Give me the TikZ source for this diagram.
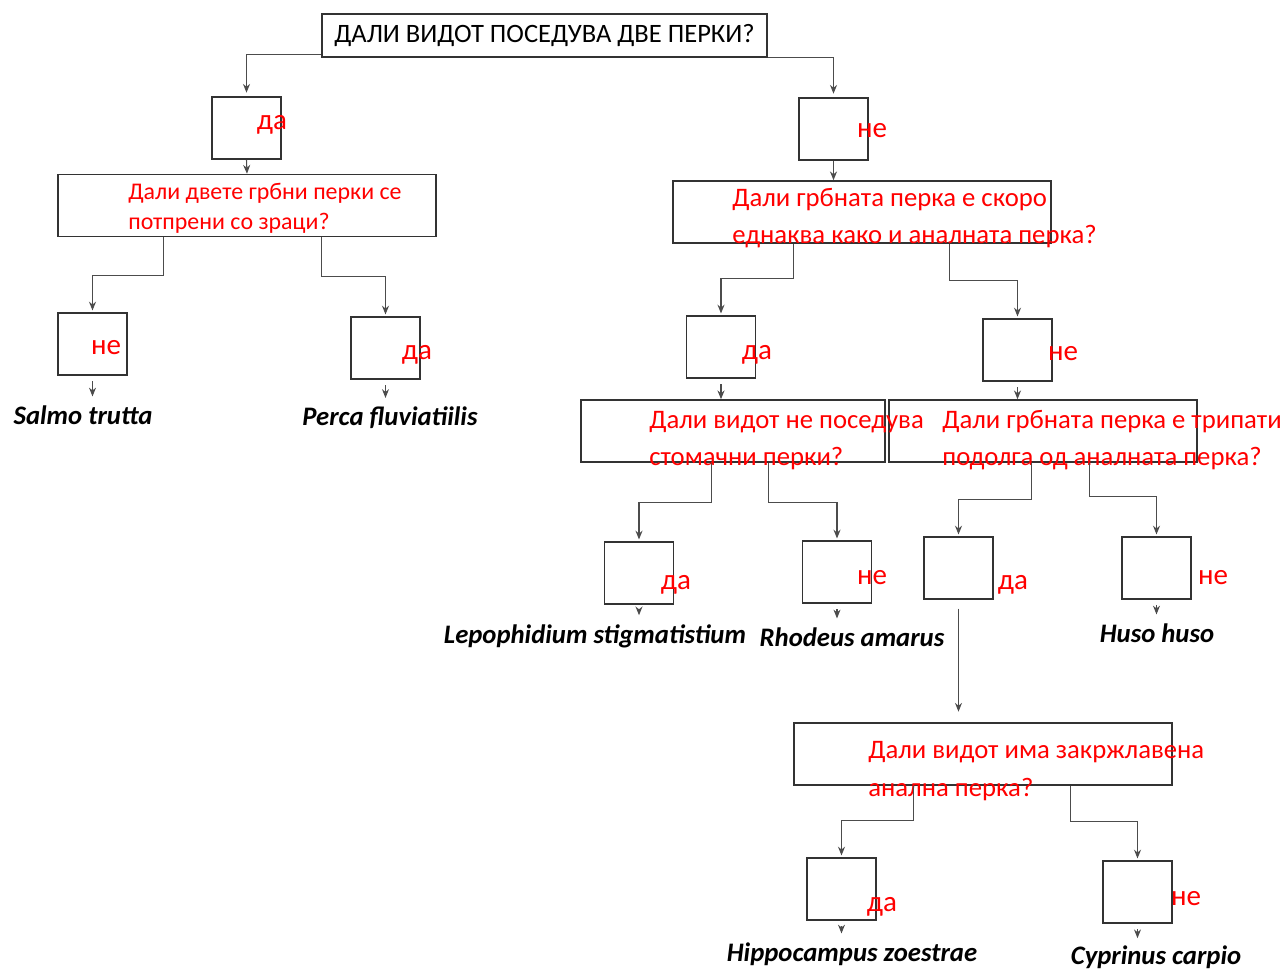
\documentclass[tikz,border=0pt]{standalone}
\usepackage{fontspec}
\setmainfont{Carlito}
\usetikzlibrary{arrows.meta}

\begin{document}
\begin{tikzpicture}[x=0.02cm, y=-0.02cm, >={Stealth[length=5pt,width=4pt]},
    box/.style={draw=black!80, line width=0.9pt, inner sep=0pt},
    ans/.style={box, minimum width=1.38cm, minimum height=1.24cm},
    ask/.style={box, minimum height=1.24cm},
    qtext/.style={red, anchor=west, align=left, inner sep=0pt},
    yn/.style={red, inner sep=0pt, font=\fontsize{16.5}{16.5}\selectfont},
    fish/.style={inner sep=1pt, font=\fontsize{15.2}{15.2}\selectfont\bfseries\itshape},
    link/.style={->, draw=black!70, line width=0.6pt}]

  \useasboundingbox (0,0) rectangle (1286,971);

  % question boxes
  \node[box, minimum width=8.9cm, minimum height=0.86cm] (T) at (544.5,35.5)
    {\fontsize{15.1}{15.1}\selectfont ДАЛИ ВИДОТ ПОСЕДУВА ДВЕ ПЕРКИ?};
  \node[ask, minimum width=7.56cm] (Q1) at (247,205.5) {};
  \node[ask, minimum width=7.56cm] (Q2) at (862,212) {};
  \node[ask, minimum width=6.08cm] (Q3) at (733,431) {};
  \node[ask, minimum width=6.16cm] (Q4) at (1043,431) {};
  \node[ask, minimum width=7.56cm] (Q5) at (983,754) {};

  \node[qtext, font=\fontsize{13.6}{17}\selectfont] (Q1t) at (128,208)
    {Дали двете грбни перки се\\потпрени со зраци?};
  \node[qtext, font=\fontsize{15.2}{21}\selectfont] (Q2t) at (732,218.5)
    {Дали грбната перка е скоро\\еднаква како и аналната перка?};
  \node[qtext, font=\fontsize{15.2}{21}\selectfont] (Q3t) at (649,440.5)
    {Дали видот не поседува\\стомачни перки?};
  \node[qtext, font=\fontsize{15.2}{21}\selectfont] (Q4t) at (942,440.5)
    {Дали грбната перка е трипати\\подолга од аналната перка?};
  \node[qtext, font=\fontsize{15.2}{21.5}\selectfont] (Q5t) at (868,771)
    {Дали видот има закржлавена\\анална перка?};

  % answer boxes
  \node[ans] (A1) at (246.5,128) {};
  \node[ans] (A2) at (833.5,129) {};
  \node[ans] (A3) at (92.5,344) {};
  \node[ans] (A4) at (385.5,348) {};
  \node[ans] (A5) at (721,347) {};
  \node[ans] (A6) at (1017.5,350) {};
  \node[ans] (A7) at (639,573) {};
  \node[ans] (A8) at (837,572) {};
  \node[ans] (A9) at (958.5,568) {};
  \node[ans] (A10) at (1156.5,568) {};
  \node[ans] (A11) at (841.5,889) {};
  \node[ans] (A12) at (1137.5,892) {};

  \node[yn] (A1l) at (272,125) {да};
  \node[yn] (A2l) at (872,131) {не};
  \node[yn] (A3l) at (106,348) {не};
  \node[yn] (A4l) at (417,355) {да};
  \node[yn] (A5l) at (757,355) {да};
  \node[yn] (A6l) at (1063,354) {не};
  \node[yn] (A7l) at (676,585) {да};
  \node[yn] (A8l) at (872,578) {не};
  \node[yn] (A9l) at (1013,585) {да};
  \node[yn] (A10l) at (1213,578) {не};
  \node[yn] (A11l) at (882,907) {да};
  \node[yn] (A12l) at (1186,899) {не};

  % species
  \node[fish] (S1) at (83,415) {Salmo trutta};
  \node[fish] (S2) at (390,418) {Perca fluviatiilis};
  \node[fish] (S3) at (595,636) {Lepophidium stigmatistium};
  \node[fish] (S4) at (852,637) {Rhodeus amarus};
  \node[fish] (S5) at (1157,633) {Huso huso};
  \node[fish] (S6) at (852,954) {Hippocampus zoestrae};
  \node[fish] (S7) at (1156,957) {Cyprinus carpio};

  % connectors
  \draw[link, shorten >=2pt] ([yshift=0.06cm]T.south west) -| (A1.north);
  \draw[link, shorten >=2pt] (T.south east) -| (A2.north);
  \draw[link] (A1.south) -- (Q1.north);
  \draw[link] (A2.south) -- (A2.south |- Q2.north);

  \draw[link, shorten >=1pt] ([xshift=2.12cm]Q1.south west) -- ++(0,-0.76cm) -| (A3.north);
  \draw[link, shorten >=1pt] ([xshift=5.28cm]Q1.south west) -- ++(0,-0.78cm) -| (A4.north);
  \draw[link, shorten >=1pt] ([xshift=2.42cm]Q2.south west) -- ++(0,-0.7cm) -| (A5.north);
  \draw[link, shorten >=1pt] ([xshift=5.54cm]Q2.south west) -- ++(0,-0.74cm) -| (A6.north);
  \draw[link, shorten <=3pt] (A5.south) -- (A5.south |- Q3.north);
  \draw[link, shorten <=3pt] (A6.south) -- (A6.south |- Q4.north);

  \draw[link, shorten >=1pt] ([xshift=2.62cm]Q3.south west) -- ++(0,-0.8cm) -| (A7.north);
  \draw[link, shorten >=1pt] ([xshift=3.76cm]Q3.south west) -- ++(0,-0.8cm) -| (A8.north);
  \draw[link, shorten >=1pt] ([xshift=2.86cm]Q4.south west) -- ++(0,-0.74cm) -| (A9.north);
  \draw[link, shorten >=1pt] ([xshift=4.02cm]Q4.south west) -- ++(0,-0.68cm) -| (A10.north);
  \draw[link, shorten <=5pt, shorten >=6pt] (A9.south) -- (A9.south |- Q5.north);

  \draw[link, shorten >=1pt] ([xshift=2.4cm]Q5.south west) -- ++(0,-0.7cm) -| (A11.north);
  \draw[link, shorten >=1pt] ([xshift=5.54cm]Q5.south west) -- ++(0,-0.72cm) -| (A12.north);

  \draw[link, shorten <=3pt, shorten >=4pt] (A3.south) -- (A3.south |- S1.north);
  \draw[link, shorten <=3pt, shorten >=4pt] (A4.south) -- (A4.south |- S2.north);
  \draw[link, shorten <=3pt, shorten >=4pt] (A7.south) -- (A7.south |- S3.north);
  \draw[link, shorten <=3pt, shorten >=4pt] (A8.south) -- (A8.south |- S4.north);
  \draw[link, shorten <=3pt, shorten >=4pt] (A10.south) -- (A10.south |- S5.north);
  \draw[link, shorten <=3pt, shorten >=4pt] (A11.south) -- (A11.south |- S6.north);
  \draw[link, shorten <=3pt, shorten >=3pt] (A12.south) -- (A12.south |- S7.north);

\end{tikzpicture}
\end{document}
